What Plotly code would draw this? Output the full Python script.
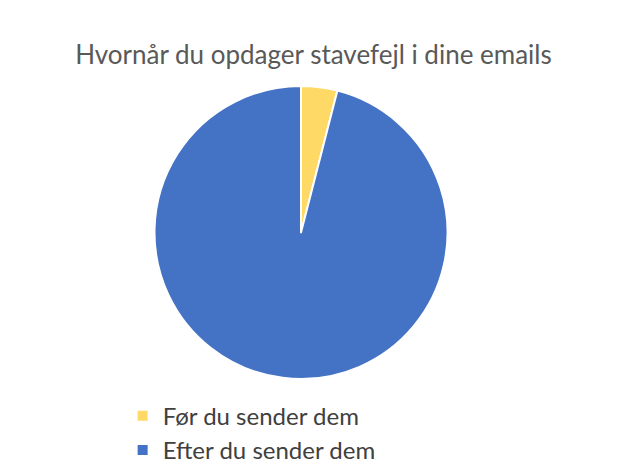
import plotly.graph_objects as go

labels = ["Før du sender dem", "Efter du sender dem"]
values = [4, 96]
colors = ["#FFD966", "#4472C4"]

fig = go.Figure(go.Pie(
    labels=labels, values=values, sort=False, direction="clockwise", rotation=0,
    marker=dict(colors=colors, line=dict(color="white", width=2)),
    textinfo="none", hoverinfo="label+percent",
))
fig.update_layout(
    width=626, height=465,
    paper_bgcolor="white",
    font=dict(family="Lato, Open Sans, sans-serif", color="#404040"),
    title=dict(text="Hvornår du opdager stavefejl i dine emails", x=0.488, xanchor="center",
               y=0.9, yanchor="middle", font=dict(size=26, color="#595959")),
    margin=dict(l=0, r=40, t=78, b=84),
    legend=dict(orientation="h", x=0.49, xanchor="center", y=-0.05, yanchor="top",
                font=dict(size=24, color="#404040"), itemwidth=30, entrywidth=300),
)
fig.write_html("out.html")
